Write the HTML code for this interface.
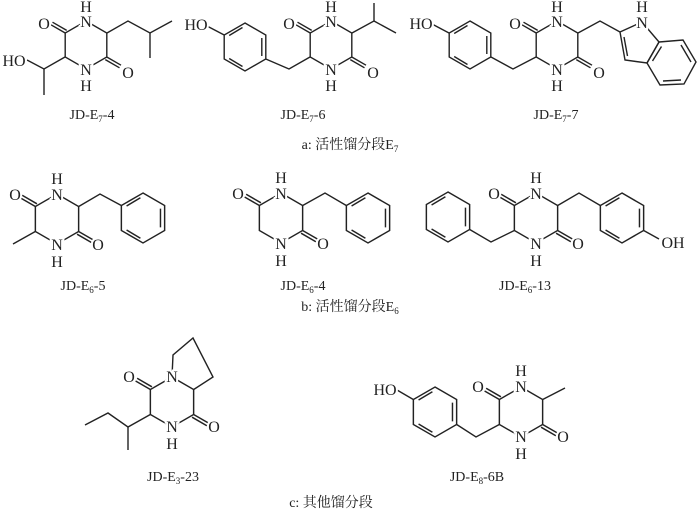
<!DOCTYPE html>
<html><head><meta charset="utf-8"><style>
html,body{margin:0;padding:0;background:#fff;}
svg{display:block;}
.a{font-family:"Liberation Serif",serif;font-size:16px;text-anchor:middle;fill:#222;stroke:#fff;stroke-width:4px;paint-order:stroke;}
.h{font-family:"Liberation Serif",serif;font-size:16px;text-anchor:middle;fill:#222;}
.l{font-family:"Liberation Serif",serif;font-size:14px;text-anchor:middle;fill:#222;}
.c{font-family:"Liberation Serif","Noto Serif CJK SC",serif;font-size:14px;text-anchor:middle;fill:#222;}
</style></head><body>
<svg width="700" height="514" viewBox="0 0 700 514" xmlns="http://www.w3.org/2000/svg">
<defs>
<g id="ring" fill="none" stroke="#222" stroke-width="1.4">
<polygon points="0,-24 20.8,-12 20.8,12 0,24 -20.8,12 -20.8,-12"/>
<line x1="-20.8" y1="-12" x2="-35" y2="-20.2"/>
<line x1="-19.3" y1="-14.6" x2="-33.5" y2="-22.8"/>
<line x1="20.8" y1="12" x2="35" y2="20.2"/>
<line x1="19.3" y1="14.6" x2="33.5" y2="22.8"/>
</g>
<g id="benz" fill="none" stroke="#222" stroke-width="1.4">
<polygon points="0,-24 20.8,-12 20.8,12 0,24 -20.8,12 -20.8,-12"/>
<line x1="16.8" y1="-9" x2="16.8" y2="9"/>
<line x1="-2.5" y1="19.5" x2="-15.8" y2="11.5"/>
<line x1="-15.8" y1="-11.5" x2="-2.5" y2="-19.5"/>
</g>
</defs>
<g fill="none" stroke="#222" stroke-width="1.4">
<polyline points="107,33 128,21 150,33 172,21"/><line x1="150" y1="33" x2="150" y2="58"/>
<polyline points="65,57 44,69 27,60"/><line x1="44" y1="69" x2="44" y2="95"/>
<polyline points="352,33 374,21 374,3"/><line x1="374" y1="21" x2="396" y2="33"/>
<polyline points="310,57 289,69 265.8,59"/><line x1="224.2" y1="35" x2="207" y2="26"/>
<polyline points="491,57 513,69 536,57"/><line x1="449" y1="33" x2="432" y2="24"/>
<polyline points="578,33 600,21 620,32"/>
<polygon points="620,32 642,22 659,42 647,63 625,60"/>
<line x1="624" y1="37" x2="627.5" y2="56"/>
<polygon points="659,42 683,40 696,62 684,84 660,85 647,63"/>
<line x1="681" y1="45" x2="691" y2="62"/>
<line x1="681" y1="80" x2="663" y2="81"/>
<line x1="652.5" y1="61" x2="661.5" y2="46.5"/>
<polyline points="78.7,206.5 100,194 121.3,205.5"/><line x1="35.3" y1="231.5" x2="13" y2="244"/>
<polyline points="302.7,205.5 325,193 346.3,205.5"/>
<polyline points="514.3,230.5 491,242 469.7,229.5"/>
<polyline points="557.7,205.5 579,193 600.3,205.5"/>
<line x1="643.7" y1="230.5" x2="659" y2="239"/>
<polyline points="172,377 173,355 193,338 213,377 193.7,389.5"/>
<polyline points="150.3,414.5 128,427 108,413 85,425"/><line x1="128" y1="427" x2="128" y2="450"/>
<line x1="542.7" y1="399.5" x2="565" y2="388"/>
<polyline points="499.3,424.5 476,437 456.7,424.5"/>
<line x1="413.3" y1="399.5" x2="397" y2="390"/>
</g>
<use href="#ring" transform="translate(86,45)"/>
<use href="#ring" transform="translate(331,45)"/>
<use href="#ring" transform="translate(557,45)"/>
<use href="#benz" transform="translate(245,47)"/>
<use href="#benz" transform="translate(470,45)"/>
<use href="#ring" transform="translate(57,219) scale(1.04)"/>
<use href="#benz" transform="translate(143,218) scale(1.04)"/>
<use href="#ring" transform="translate(281,218) scale(1.04)"/>
<use href="#benz" transform="translate(368,218) scale(1.04)"/>
<use href="#ring" transform="translate(536,218) scale(1.04)"/>
<use href="#benz" transform="translate(448,217) scale(1.04)"/>
<use href="#benz" transform="translate(622,218) scale(1.04)"/>
<use href="#ring" transform="translate(172,402) scale(1.04)"/>
<use href="#ring" transform="translate(521,412) scale(1.04)"/>
<use href="#benz" transform="translate(435,412) scale(1.04)"/>

<g>
<text class="a" x="86" y="27">N</text><text class="h" x="86" y="12">H</text>
<text class="a" x="86" y="75">N</text><text class="h" x="86" y="91">H</text>
<text class="a" x="44" y="29">O</text><text class="a" x="128" y="78">O</text>
<text class="a" x="14" y="66">HO</text>

<text class="a" x="331" y="27">N</text><text class="h" x="331" y="12">H</text>
<text class="a" x="331" y="75">N</text><text class="h" x="331" y="91">H</text>
<text class="a" x="289" y="29">O</text><text class="a" x="373" y="78">O</text>
<text class="a" x="196" y="30">HO</text>

<text class="a" x="557" y="27">N</text><text class="h" x="557" y="12">H</text>
<text class="a" x="557" y="75">N</text><text class="h" x="557" y="91">H</text>
<text class="a" x="515" y="29">O</text><text class="a" x="599" y="78">O</text>
<text class="a" x="421" y="29">HO</text>
<text class="a" x="642" y="28">N</text><text class="h" x="642" y="12">H</text>

<text class="a" x="57" y="200">N</text><text class="h" x="57" y="184">H</text>
<text class="a" x="57" y="250">N</text><text class="h" x="57" y="267">H</text>
<text class="a" x="15" y="200">O</text><text class="a" x="98" y="250">O</text>

<text class="a" x="281" y="199">N</text><text class="h" x="281" y="183">H</text>
<text class="a" x="281" y="249">N</text><text class="h" x="281" y="266">H</text>
<text class="a" x="238" y="199">O</text><text class="a" x="323" y="249">O</text>

<text class="a" x="536" y="199">N</text><text class="h" x="536" y="183">H</text>
<text class="a" x="536" y="249">N</text><text class="h" x="536" y="266">H</text>
<text class="a" x="494" y="199">O</text><text class="a" x="578" y="249">O</text>
<text class="a" x="673" y="248">OH</text>

<text class="a" x="172" y="382">N</text>
<text class="a" x="172" y="432">N</text><text class="h" x="172" y="449">H</text>
<text class="a" x="129" y="382">O</text><text class="a" x="214" y="432">O</text>

<text class="a" x="521" y="392">N</text><text class="h" x="521" y="376">H</text>
<text class="a" x="521" y="442">N</text><text class="h" x="521" y="459">H</text>
<text class="a" x="478" y="392">O</text><text class="a" x="563" y="442">O</text>
<text class="a" x="385" y="395">HO</text>
</g>

<text class="l" x="92" y="119">JD-E<tspan font-size="9" dy="3">7</tspan><tspan dy="-3">-4</tspan></text>
<text class="l" x="303" y="119">JD-E<tspan font-size="9" dy="3">7</tspan><tspan dy="-3">-6</tspan></text>
<text class="l" x="556" y="119">JD-E<tspan font-size="9" dy="3">7</tspan><tspan dy="-3">-7</tspan></text>
<text class="c" x="350" y="149">a: 活性馏分段E<tspan font-size="9" dy="3">7</tspan></text>

<text class="l" x="83" y="290">JD-E<tspan font-size="9" dy="3">6</tspan><tspan dy="-3">-5</tspan></text>
<text class="l" x="303" y="290">JD-E<tspan font-size="9" dy="3">6</tspan><tspan dy="-3">-4</tspan></text>
<text class="l" x="525" y="290">JD-E<tspan font-size="9" dy="3">6</tspan><tspan dy="-3">-13</tspan></text>
<text class="c" x="350" y="311">b: 活性馏分段E<tspan font-size="9" dy="3">6</tspan></text>

<text class="l" x="173" y="481">JD-E<tspan font-size="9" dy="3">3</tspan><tspan dy="-3">-23</tspan></text>
<text class="l" x="477" y="481">JD-E<tspan font-size="9" dy="3">8</tspan><tspan dy="-3">-6B</tspan></text>
<text class="c" x="331" y="507">c:  其他馏分段</text>
</svg>
</body></html>
